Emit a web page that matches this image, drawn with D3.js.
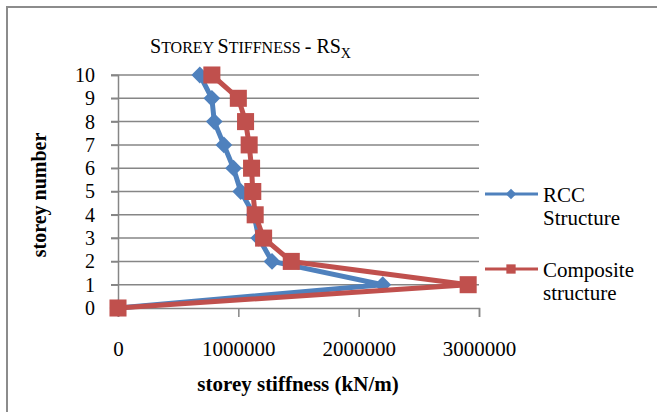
<!DOCTYPE html>
<html><head><meta charset="utf-8">
<script src="https://cdn.jsdelivr.net/npm/d3@7"></script>
<style>html,body{margin:0;padding:0;background:#fff;} svg{display:block;} svg text{font-family:'Liberation Serif','Times New Roman',serif;}</style>
</head><body>
<svg id="c" width="657" height="412"></svg>
<script>
const storeys = [0,1,2,3,4,5,6,7,8,9,10];
const rcc = [0,2200000,1280000,1170000,1130000,1020000,960000,880000,800000,780000,680000];
const composite = [0,2910000,1440000,1210000,1140000,1120000,1110000,1090000,1060000,1000000,780000];
const xTicks = [0,1000000,2000000,3000000];
const yTicks = [0,1,2,3,4,5,6,7,8,9,10];
const seriesNames = ["RCC Structure","Composite structure"];

const svg = d3.select("#c");
const FONT = "'Liberation Serif','Times New Roman',serif";
const blue = "#4F81BD", red = "#C0504D", grid = "#868686";

svg.append("rect").attr("x",7).attr("y",7).attr("width",700).attr("height",500)
  .attr("fill","#fff").attr("stroke","#8c8c8c").attr("stroke-width",2);

const x = d3.scaleLinear().domain([0,3000000]).range([118,479]);
const y = d3.scaleLinear().domain([0,10]).range([308,75]);

// gridlines
svg.append("g").selectAll("line").data(yTicks.filter(d=>d>0)).join("line")
  .attr("x1",111).attr("x2",x(3000000)).attr("y1",d=>y(d)).attr("y2",d=>y(d))
  .attr("stroke",grid).attr("stroke-width",1.5);

// y axis
const yAxis = svg.append("g").attr("transform",`translate(${x(0)},0)`)
  .call(d3.axisLeft(y).tickValues(yTicks).tickSize(7).tickPadding(16).tickFormat(d3.format("d")));
yAxis.attr("font-family",FONT);
yAxis.select(".domain").attr("stroke",grid).attr("stroke-width",1.5);
yAxis.selectAll(".tick line").attr("stroke",grid).attr("stroke-width",1.5);
yAxis.selectAll("text").attr("font-family",FONT).attr("font-size",20).attr("fill","#000");

// x axis
const xAxis = svg.append("g").attr("transform",`translate(0,${y(0)})`)
  .call(d3.axisBottom(x).tickValues(xTicks).tickSize(9).tickPadding(24).tickFormat(d3.format("d")));
xAxis.attr("font-family",FONT);
xAxis.select(".domain").attr("stroke",grid).attr("stroke-width",1.5);
xAxis.selectAll(".tick line").attr("stroke",grid).attr("stroke-width",1.5);
xAxis.selectAll("text").attr("font-family",FONT).attr("font-size",21).attr("fill","#000");

const line = d3.line().x(d=>x(d[0])).y(d=>y(d[1]));
const rccPts = storeys.map((s,i)=>[rcc[i],s]);
const compPts = storeys.map((s,i)=>[composite[i],s]);

function drawSeries(pts,color,shape,size){
  svg.append("path").datum(pts).attr("d",line).attr("fill","none")
    .attr("stroke",color).attr("stroke-width",5).attr("stroke-linejoin","round");
  svg.append("g").selectAll("path").data(pts).join("path")
    .attr("transform",d=>`translate(${x(d[0])},${y(d[1])})`)
    .attr("d",d3.symbol().type(shape).size(size))
    .attr("fill",color);
}
drawSeries(rccPts,blue,d3.symbolDiamond2,180);
drawSeries(compPts,red,d3.symbolSquare2,370);

// title
const t = svg.append("text").attr("x",150).attr("y",53).attr("font-family",FONT).attr("fill","#000");
t.append("tspan").attr("font-size",20).text("S");
t.append("tspan").attr("font-size",16).text("TOREY ");
t.append("tspan").attr("font-size",20).text("S");
t.append("tspan").attr("font-size",16).text("TIFFNESS ");
t.append("tspan").attr("font-size",20).text("- RS");
t.append("tspan").attr("font-size",14).attr("dy",5).text("X");

// axis titles
svg.append("text").attr("x",298).attr("y",391).attr("text-anchor","middle")
  .attr("font-family",FONT).attr("font-weight","bold").attr("font-size",21).text("storey stiffness (kN/m)");
svg.append("text").attr("transform","translate(46,195) rotate(-90)").attr("text-anchor","middle")
  .attr("font-family",FONT).attr("font-weight","bold").attr("font-size",20).text("storey number");

// legend
const leg = [
  {name:seriesNames[0], color:blue, shape:d3.symbolDiamond2, size:70, y:194, lines:["RCC","Structure"]},
  {name:seriesNames[1], color:red, shape:d3.symbolSquare2, size:110, y:269, lines:["Composite","structure"]}
];
leg.forEach(l=>{
  svg.append("line").attr("x1",485).attr("x2",538).attr("y1",l.y).attr("y2",l.y)
    .attr("stroke",l.color).attr("stroke-width",3);
  svg.append("path").attr("transform",`translate(511,${l.y})`)
    .attr("d",d3.symbol().type(l.shape).size(l.size)).attr("fill",l.color);
  const tx = svg.append("text").attr("x",543).attr("y",l.y+8).attr("font-family",FONT)
    .attr("font-size",21).attr("fill","#000");
  l.lines.forEach((s,i)=>tx.append("tspan").attr("x",543).attr("dy",i?23:0).text(s));
});
</script>
</body></html>
